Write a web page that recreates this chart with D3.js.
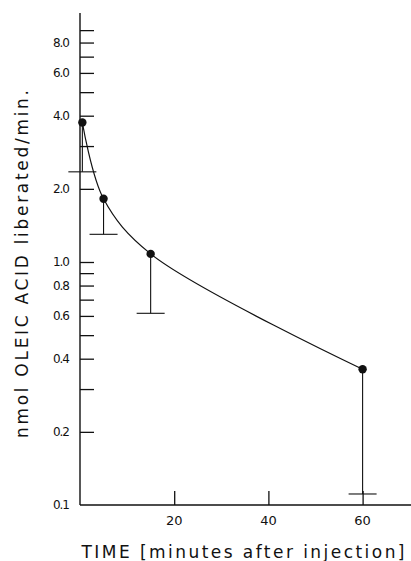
<!DOCTYPE html>
<html>
<head>
<meta charset="utf-8">
<script src="https://cdn.jsdelivr.net/npm/d3@7"></script>
<style>
  html, body { margin: 0; padding: 0; background: #fff; }
  svg { display: block; }
  .tick line { stroke: #111; stroke-width: 1.3; }
  .lbl { font-family: "DejaVu Sans", sans-serif; fill: #111; }
</style>
</head>
<body>
<svg id="chart" width="411" height="561"></svg>
<script>
// values
const times = [0.5, 5, 15, 60];
const rates = [3.75, 1.82, 1.08, 0.362];
const lowerBounds = [2.35, 1.30, 0.615, 0.111];

const yTicks = [9, 8, 7, 6, 5, 4, 3, 2, 1, 0.9, 0.8, 0.7, 0.6, 0.5, 0.4, 0.3, 0.2];
const yLabels = [8, 6, 4, 2, 1, 0.8, 0.6, 0.4, 0.2, 0.1];
const xTicks = [20, 40, 60];

const points = times.map((t, i) => ({ t, v: rates[i], lo: lowerBounds[i] }));

const svg = d3.select('#chart');

const x = d3.scaleLinear().domain([0, 70]).range([80, 409.7]);
const y = d3.scaleLog().domain([0.1, 10]).range([505, 19]);

// axis lines
svg.append('line')
  .attr('x1', x(0)).attr('x2', x(0))
  .attr('y1', 13).attr('y2', y(0.1))
  .attr('stroke', '#111').attr('stroke-width', 1.4);
svg.append('line')
  .attr('x1', x(0)).attr('x2', 411)
  .attr('y1', y(0.1)).attr('y2', y(0.1))
  .attr('stroke', '#111').attr('stroke-width', 1.4);

// y ticks (drawn to the right of the axis)
const yAxis = svg.append('g')
  .attr('transform', `translate(${x(0)},0)`)
  .call(d3.axisRight(y).tickValues(yTicks).tickSize(14).tickFormat(''));
yAxis.select('.domain').remove();

svg.append('g').selectAll('text')
  .data(yLabels)
  .join('text')
  .attr('class', 'lbl')
  .attr('x', 69)
  .attr('y', d => y(d))
  .attr('dy', '0.35em')
  .attr('text-anchor', 'end')
  .attr('font-size', 12)
  .attr('letter-spacing', -1)
  .text(d => d3.format('.1f')(d));

// x ticks (drawn upward from the axis)
const xAxis = svg.append('g')
  .attr('transform', `translate(0,${y(0.1)})`)
  .call(d3.axisTop(x).tickValues(xTicks).tickSize(14).tickFormat(''));
xAxis.select('.domain').remove();

svg.append('g').selectAll('text')
  .data(xTicks)
  .join('text')
  .attr('class', 'lbl')
  .attr('x', d => x(d))
  .attr('y', 525)
  .attr('text-anchor', 'middle')
  .attr('font-size', 13)
  .text(d => d);

// axis titles
svg.append('text')
  .attr('class', 'lbl')
  .attr('x', 243)
  .attr('y', 558)
  .attr('text-anchor', 'middle')
  .attr('font-size', 17)
  .attr('textLength', 323)
  .attr('lengthAdjust', 'spacing')
  .text('TIME [minutes after injection]');

svg.append('text')
  .attr('class', 'lbl')
  .attr('transform', 'translate(28,264) rotate(-90)')
  .attr('text-anchor', 'middle')
  .attr('font-size', 17)
  .attr('textLength', 348)
  .attr('lengthAdjust', 'spacing')
  .text('nmol OLEIC ACID liberated/min.');

// fitted curve
const line = d3.line()
  .x(d => x(d.t))
  .y(d => y(d.v))
  .curve(d3.curveCatmullRom.alpha(0.5));

svg.append('path')
  .datum(points)
  .attr('d', line)
  .attr('fill', 'none')
  .attr('stroke', '#111')
  .attr('stroke-width', 1.2);

// error bars (lower only)
const capHalf = 14;
const bars = svg.append('g').selectAll('g')
  .data(points)
  .join('g');

bars.append('line')
  .attr('x1', d => x(d.t)).attr('x2', d => x(d.t))
  .attr('y1', d => y(d.v)).attr('y2', d => y(d.lo))
  .attr('stroke', '#111').attr('stroke-width', 1.1);

bars.append('line')
  .attr('x1', d => x(d.t) - capHalf).attr('x2', d => x(d.t) + capHalf)
  .attr('y1', d => y(d.lo)).attr('y2', d => y(d.lo))
  .attr('stroke', '#111').attr('stroke-width', 1.1);

// data points
svg.append('g').selectAll('circle')
  .data(points)
  .join('circle')
  .attr('cx', d => x(d.t))
  .attr('cy', d => y(d.v))
  .attr('r', 4.2)
  .attr('fill', '#111');
</script>
</body>
</html>
